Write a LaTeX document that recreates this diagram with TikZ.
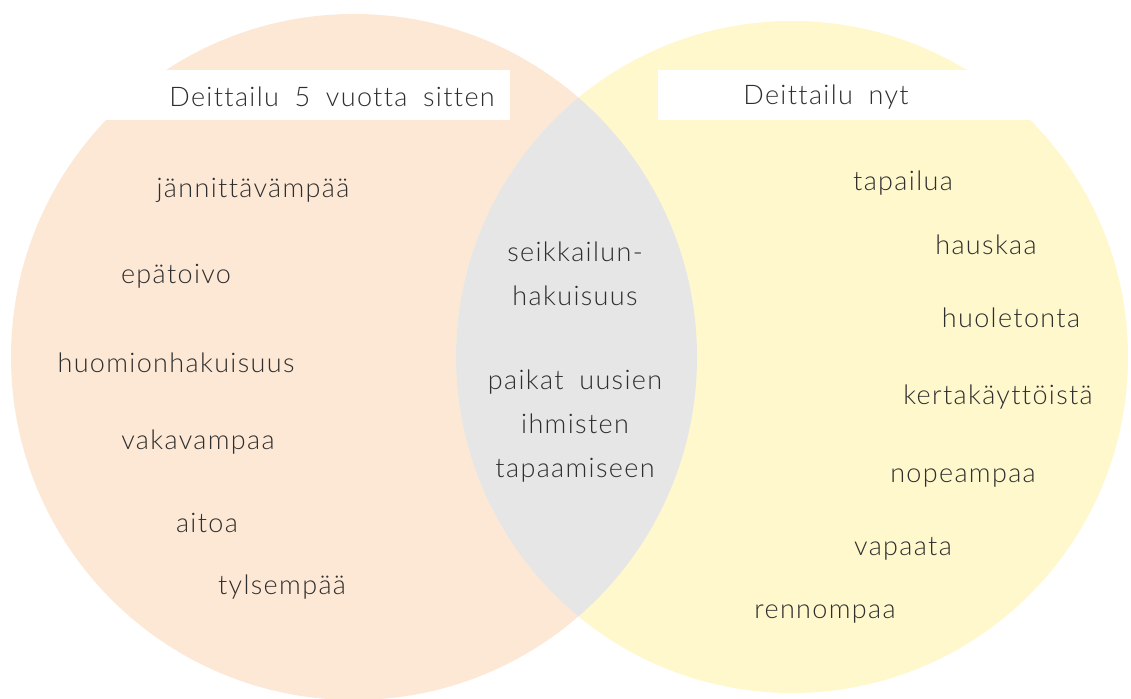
\documentclass[tikz,border=0pt]{standalone}
\usepackage{fontspec}
\setmainfont{Lato Light}[LetterSpace=5,WordSpace=1.8,Ligatures={NoCommon}]
\begin{document}
\begin{tikzpicture}[x=1pt,y=-1pt,
  lbl/.style={font=\fontsize{27}{44}\selectfont, text=txtgray, inner sep=0pt, align=center},
  hdr/.style={font=\fontsize{27}{32}\selectfont, text=txtgray, inner sep=0pt}]
\definecolor{peach}{HTML}{FDE8D6}
\definecolor{lemon}{HTML}{FFF8CD}
\definecolor{lens}{HTML}{E6E6E7}
\definecolor{txtgray}{HTML}{2E2E2E}
\useasboundingbox (0,0) rectangle (1131,698);
\fill[white] (0,0) rectangle (1131,698);
% circles
\fill[peach] (354,357) circle[radius=343];
\fill[lemon] (792,357) circle[radius=336];
\begin{scope}
  \clip (354,357) circle[radius=343];
  \fill[lens] (792,357) circle[radius=336];
\end{scope}
% header boxes
\fill[white] (100,70) rectangle (510,120);
\fill[white] (658,70) rectangle (1060,120);
\node[hdr] (hL) at (332,97) {Deittailu 5 vuotta sitten};
\node[hdr] (hR) at (826,97) {Deittailu nyt};
% left items
\node[lbl] (l1) at (253,190) {jännittävämpää};
\node[lbl] (l2) at (176,276) {epätoivo};
\node[lbl] (l3) at (176,363) {huomionhakuisuus};
\node[lbl] (l4) at (198,442) {vakavampaa};
\node[lbl] (l5) at (207,523) {aitoa};
\node[lbl] (l6) at (282,587) {tylsempää};
% middle
\node[lbl] (m1) at (575,274) {seikkailun-\\hakuisuus};
\node[lbl] (m2) at (575,426) {paikat uusien\\ihmisten\\tapaamiseen};
% right items
\node[lbl] (r1) at (903,183) {tapailua};
\node[lbl] (r2) at (986,245) {hauskaa};
\node[lbl] (r3) at (1011,318) {huoletonta};
\node[lbl] (r4) at (998,397) {kertakäyttöistä};
\node[lbl] (r5) at (963,478) {nopeampaa};
\node[lbl] (r6) at (903,549) {vapaata};
\node[lbl] (r7) at (825,614) {rennompaa};
\end{tikzpicture}
\end{document}
